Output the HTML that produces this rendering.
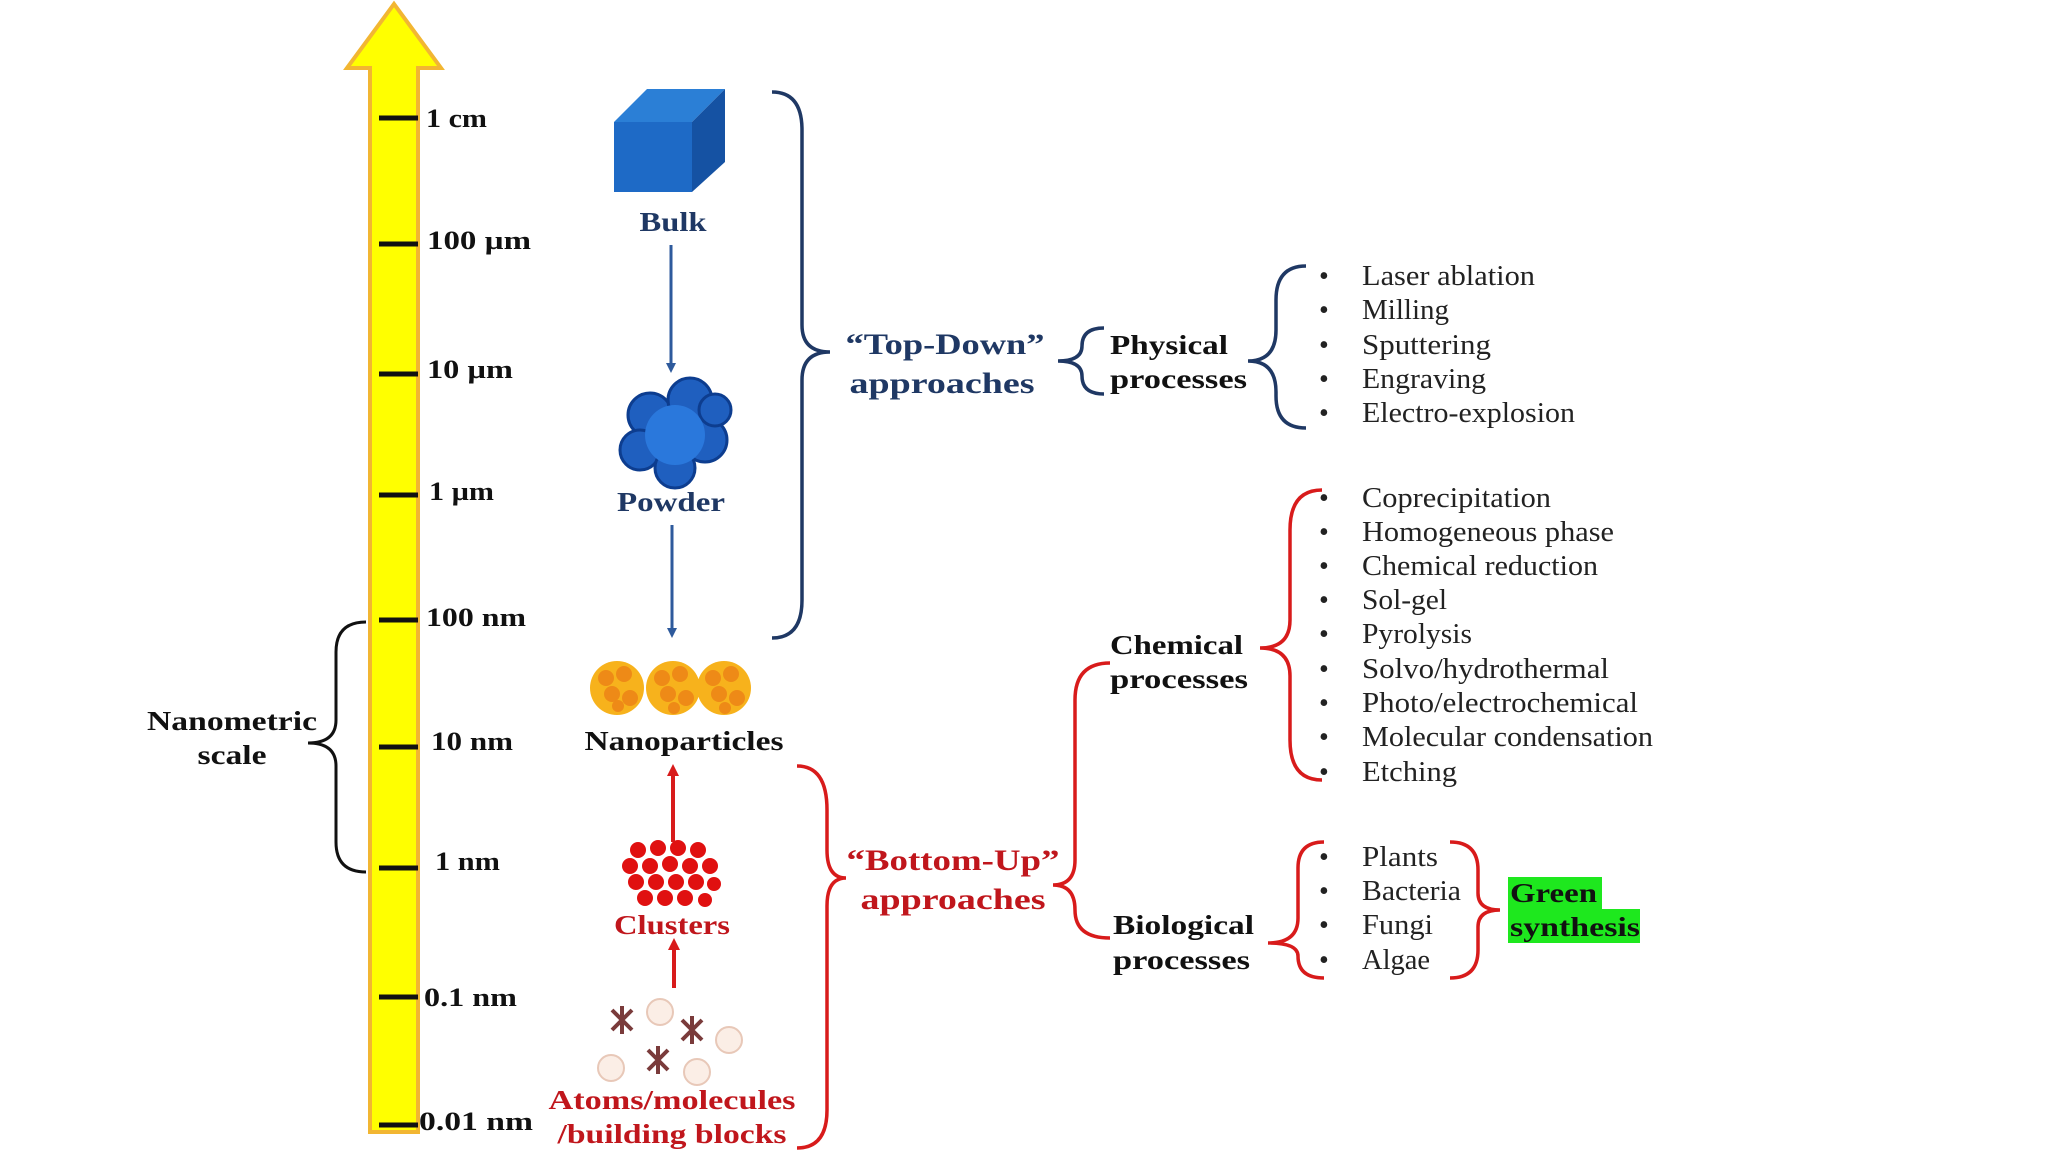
<!DOCTYPE html>
<html><head><meta charset="utf-8"><style>
html,body{margin:0;padding:0;background:#fff;}
svg{display:block;}
text{font-family:"Liberation Serif",serif;}
.b{font-weight:bold;}
</style></head><body>
<svg width="2048" height="1152" viewBox="0 0 2048 1152" xmlns="http://www.w3.org/2000/svg">
<defs>
<marker id="ab" markerWidth="10" markerHeight="10" refX="5" refY="5" orient="auto" markerUnits="userSpaceOnUse" viewBox="0 0 10 10"><path d="M0,0 L10,5 L0,10 z" fill="#2e5a9c"/></marker>
<marker id="ar" markerWidth="12" markerHeight="12" refX="6" refY="6" orient="auto" markerUnits="userSpaceOnUse" viewBox="0 0 12 12"><path d="M0,0 L12,6 L0,12 z" fill="#d81b1b"/></marker>
</defs>
<path d="M370,1132 L370,68 L347,68 L394,4 L441,68 L418,68 L418,1132 Z" fill="#ffff00" stroke="#f2b632" stroke-width="4"/>
<g stroke="#111" stroke-width="5">
<line x1="379" y1="118" x2="418" y2="118"/>
<line x1="379" y1="244" x2="418" y2="244"/>
<line x1="379" y1="374" x2="418" y2="374"/>
<line x1="379" y1="495" x2="418" y2="495"/>
<line x1="379" y1="620" x2="418" y2="620"/>
<line x1="379" y1="747" x2="418" y2="747"/>
<line x1="379" y1="868" x2="418" y2="868"/>
<line x1="379" y1="997" x2="418" y2="997"/>
<line x1="379" y1="1125" x2="418" y2="1125"/>
</g>
<g class="b" font-size="26" fill="#111">
<text x="426" y="127" textLength="61" lengthAdjust="spacingAndGlyphs">1 cm</text>
<text x="427" y="249" textLength="104" lengthAdjust="spacingAndGlyphs">100 µm</text>
<text x="427" y="378" textLength="86" lengthAdjust="spacingAndGlyphs">10 µm</text>
<text x="429" y="500" textLength="65" lengthAdjust="spacingAndGlyphs">1 µm</text>
<text x="426" y="626" textLength="100" lengthAdjust="spacingAndGlyphs">100 nm</text>
<text x="431" y="750" textLength="82" lengthAdjust="spacingAndGlyphs">10 nm</text>
<text x="435" y="870" textLength="65" lengthAdjust="spacingAndGlyphs">1 nm</text>
<text x="424" y="1006" textLength="93" lengthAdjust="spacingAndGlyphs">0.1 nm</text>
<text x="419" y="1130" textLength="114" lengthAdjust="spacingAndGlyphs">0.01 nm</text>
</g>
<path d="M366,622 Q336,622 336,652 L336,720 Q336,743 308,743 Q336,743 336,766 L336,842 Q336,872 366,872" fill="none" stroke="#111" stroke-width="3"/>
<text class="b" font-size="27" x="232" y="730" text-anchor="middle" fill="#111" textLength="170" lengthAdjust="spacingAndGlyphs">Nanometric</text>
<text class="b" font-size="27" x="232" y="764" text-anchor="middle" fill="#111" textLength="69" lengthAdjust="spacingAndGlyphs">scale</text>
<polygon points="614,122 647,89 725,89 692,122" fill="#2b7fd6"/>
<polygon points="692,122 725,89 725,162 692,192" fill="#1552a3"/>
<rect x="614" y="122" width="78" height="70" fill="#1e6ac6"/>
<text class="b" font-size="27" x="673" y="231" text-anchor="middle" fill="#1f3864" textLength="67" lengthAdjust="spacingAndGlyphs">Bulk</text>
<line x1="671" y1="245" x2="671" y2="368" stroke="#2e5a9c" stroke-width="3" marker-end="url(#ab)"/>
<g fill="#1f5fbf" stroke="#0d3d8f" stroke-width="3">
<circle cx="650" cy="415" r="22"/><circle cx="690" cy="400" r="22"/><circle cx="705" cy="440" r="22"/>
<circle cx="640" cy="450" r="20"/><circle cx="675" cy="468" r="20"/><circle cx="715" cy="410" r="16"/>
</g>
<circle cx="675" cy="435" r="30" fill="#2a78dc"/>
<text class="b" font-size="27" x="671" y="511" text-anchor="middle" fill="#1f3864" textLength="108" lengthAdjust="spacingAndGlyphs">Powder</text>
<line x1="672" y1="525" x2="672" y2="633" stroke="#2e5a9c" stroke-width="3" marker-end="url(#ab)"/>
<g>
<g fill="#f7b21c"><circle cx="617" cy="688" r="27"/><circle cx="673" cy="688" r="27"/><circle cx="724" cy="688" r="27"/></g>
<g fill="#ee8a17">
<circle cx="606" cy="678" r="8"/><circle cx="624" cy="674" r="8"/><circle cx="612" cy="694" r="8"/><circle cx="630" cy="698" r="8"/><circle cx="618" cy="706" r="6"/>
<circle cx="662" cy="678" r="8"/><circle cx="680" cy="674" r="8"/><circle cx="668" cy="694" r="8"/><circle cx="686" cy="698" r="8"/><circle cx="674" cy="708" r="6"/>
<circle cx="713" cy="678" r="8"/><circle cx="731" cy="674" r="8"/><circle cx="719" cy="694" r="8"/><circle cx="737" cy="698" r="8"/><circle cx="725" cy="708" r="6"/>
</g></g>
<text class="b" font-size="27" x="684" y="750" text-anchor="middle" fill="#111" textLength="199" lengthAdjust="spacingAndGlyphs">Nanoparticles</text>
<line x1="673" y1="842" x2="673" y2="770" stroke="#d81b1b" stroke-width="4" marker-end="url(#ar)"/>
<g fill="#e01010">
<circle cx="638" cy="850" r="8"/><circle cx="658" cy="848" r="8"/><circle cx="678" cy="848" r="8"/><circle cx="698" cy="850" r="8"/>
<circle cx="630" cy="866" r="8"/><circle cx="650" cy="866" r="8"/><circle cx="670" cy="864" r="8"/><circle cx="690" cy="866" r="8"/><circle cx="710" cy="866" r="8"/>
<circle cx="636" cy="882" r="8"/><circle cx="656" cy="882" r="8"/><circle cx="676" cy="882" r="8"/><circle cx="696" cy="882" r="8"/><circle cx="714" cy="884" r="7"/>
<circle cx="645" cy="898" r="8"/><circle cx="665" cy="898" r="8"/><circle cx="685" cy="898" r="8"/><circle cx="705" cy="900" r="7"/>
</g>
<text class="b" font-size="27" x="672" y="934" text-anchor="middle" fill="#c0161c" textLength="116" lengthAdjust="spacingAndGlyphs">Clusters</text>
<line x1="674" y1="988" x2="674" y2="944" stroke="#d81b1b" stroke-width="4" marker-end="url(#ar)"/>
<g stroke="#7a3b3b" stroke-width="4" fill="none">
<path d="M612,1010 l20,20 M632,1010 l-20,20 M622,1006 l0,28"/>
<path d="M682,1020 l20,20 M702,1020 l-20,20 M692,1016 l0,28"/>
<path d="M648,1050 l20,20 M668,1050 l-20,20 M658,1046 l0,28"/>
</g>
<g fill="#fbeee6" stroke="#e8c8b8" stroke-width="2">
<circle cx="660" cy="1012" r="13"/><circle cx="729" cy="1040" r="13"/><circle cx="611" cy="1068" r="13"/><circle cx="697" cy="1072" r="13"/>
</g>
<text class="b" font-size="27" x="672" y="1109" text-anchor="middle" fill="#c0161c" textLength="247" lengthAdjust="spacingAndGlyphs">Atoms/molecules</text>
<text class="b" font-size="27" x="672" y="1143" text-anchor="middle" fill="#c0161c" textLength="229" lengthAdjust="spacingAndGlyphs">/building blocks</text>
<path d="M772,92 Q802,92 802,130 L802,325 Q802,352 830,352 Q802,352 802,380 L802,600 Q802,638 772,638" fill="none" stroke="#1f3864" stroke-width="3.5"/>
<text class="b" font-size="30" x="945" y="354" text-anchor="middle" fill="#1f3864" textLength="199" lengthAdjust="spacingAndGlyphs">“Top-Down”</text>
<text class="b" font-size="30" x="942" y="393" text-anchor="middle" fill="#1f3864" textLength="185" lengthAdjust="spacingAndGlyphs">approaches</text>
<path d="M1104,328 Q1082,328 1082,346 Q1082,361 1058,361 Q1082,361 1082,376 Q1082,394 1104,394" fill="none" stroke="#1f3864" stroke-width="3.5"/>
<text class="b" font-size="27" x="1110" y="354" fill="#111" textLength="118" lengthAdjust="spacingAndGlyphs">Physical</text>
<text class="b" font-size="27" x="1110" y="388" fill="#111" textLength="137" lengthAdjust="spacingAndGlyphs">processes</text>
<path d="M1306,266 Q1276,266 1276,300 L1276,330 Q1276,361 1248,361 Q1276,361 1276,392 L1276,396 Q1276,428 1306,428" fill="none" stroke="#1f3864" stroke-width="3.5"/>
<g font-size="28" fill="#222">
<text x="1319" y="285">•</text><text x="1362" y="285" textLength="173" lengthAdjust="spacingAndGlyphs">Laser ablation</text>
<text x="1319" y="319">•</text><text x="1362" y="319" textLength="87" lengthAdjust="spacingAndGlyphs">Milling</text>
<text x="1319" y="354">•</text><text x="1362" y="354" textLength="129" lengthAdjust="spacingAndGlyphs">Sputtering</text>
<text x="1319" y="388">•</text><text x="1362" y="388" textLength="124" lengthAdjust="spacingAndGlyphs">Engraving</text>
<text x="1319" y="422">•</text><text x="1362" y="422" textLength="213" lengthAdjust="spacingAndGlyphs">Electro-explosion</text>
</g>
<path d="M797,766 Q827,766 827,810 L827,850 Q827,878 846,878 Q827,878 827,906 L827,1110 Q827,1148 797,1148" fill="none" stroke="#d81b1b" stroke-width="3.5"/>
<text class="b" font-size="30" x="953" y="870" text-anchor="middle" fill="#c0161c" textLength="213" lengthAdjust="spacingAndGlyphs">“Bottom-Up”</text>
<text class="b" font-size="30" x="953" y="909" text-anchor="middle" fill="#c0161c" textLength="185" lengthAdjust="spacingAndGlyphs">approaches</text>
<path d="M1110,663 Q1075,663 1075,700 L1075,860 Q1075,885 1053,885 Q1075,885 1075,910 Q1075,938 1110,938" fill="none" stroke="#d81b1b" stroke-width="3.5"/>
<text class="b" font-size="27" x="1110" y="654" fill="#111" textLength="133" lengthAdjust="spacingAndGlyphs">Chemical</text>
<text class="b" font-size="27" x="1110" y="688" fill="#111" textLength="138" lengthAdjust="spacingAndGlyphs">processes</text>
<path d="M1322,490 Q1290,490 1290,530 L1290,620 Q1290,648 1260,648 Q1290,648 1290,676 L1290,740 Q1290,780 1322,780" fill="none" stroke="#d81b1b" stroke-width="3.5"/>
<g font-size="28" fill="#222">
<text x="1319" y="507">•</text><text x="1362" y="507" textLength="189" lengthAdjust="spacingAndGlyphs">Coprecipitation</text>
<text x="1319" y="541">•</text><text x="1362" y="541" textLength="252" lengthAdjust="spacingAndGlyphs">Homogeneous phase</text>
<text x="1319" y="575">•</text><text x="1362" y="575" textLength="236" lengthAdjust="spacingAndGlyphs">Chemical reduction</text>
<text x="1319" y="609">•</text><text x="1362" y="609" textLength="85" lengthAdjust="spacingAndGlyphs">Sol-gel</text>
<text x="1319" y="643">•</text><text x="1362" y="643" textLength="110" lengthAdjust="spacingAndGlyphs">Pyrolysis</text>
<text x="1319" y="678">•</text><text x="1362" y="678" textLength="247" lengthAdjust="spacingAndGlyphs">Solvo/hydrothermal</text>
<text x="1319" y="712">•</text><text x="1362" y="712" textLength="276" lengthAdjust="spacingAndGlyphs">Photo/electrochemical</text>
<text x="1319" y="746">•</text><text x="1362" y="746" textLength="291" lengthAdjust="spacingAndGlyphs">Molecular condensation</text>
<text x="1319" y="781">•</text><text x="1362" y="781" textLength="95" lengthAdjust="spacingAndGlyphs">Etching</text>
</g>
<text class="b" font-size="27" x="1113" y="934" fill="#111" textLength="141" lengthAdjust="spacingAndGlyphs">Biological</text>
<text class="b" font-size="27" x="1113" y="969" fill="#111" textLength="137" lengthAdjust="spacingAndGlyphs">processes</text>
<path d="M1324,842 Q1298,842 1298,868 L1298,918 Q1298,943 1268,943 Q1298,943 1298,956 Q1298,978 1324,978" fill="none" stroke="#d81b1b" stroke-width="3.5"/>
<g font-size="28" fill="#222">
<text x="1319" y="866">•</text><text x="1362" y="866" textLength="76" lengthAdjust="spacingAndGlyphs">Plants</text>
<text x="1319" y="900">•</text><text x="1362" y="900" textLength="99" lengthAdjust="spacingAndGlyphs">Bacteria</text>
<text x="1319" y="934">•</text><text x="1362" y="934" textLength="71" lengthAdjust="spacingAndGlyphs">Fungi</text>
<text x="1319" y="969">•</text><text x="1362" y="969" textLength="68" lengthAdjust="spacingAndGlyphs">Algae</text>
</g>
<path d="M1450,842 Q1478,842 1478,870 L1478,893 Q1478,910 1500,910 Q1478,910 1478,927 L1478,950 Q1478,978 1450,978" fill="none" stroke="#d81b1b" stroke-width="3.5"/>
<rect x="1508" y="877" width="94" height="32" fill="#1ee81e"/>
<rect x="1508" y="909" width="132" height="34" fill="#1ee81e"/>
<text class="b" font-size="27" x="1510" y="902" fill="#111" textLength="87" lengthAdjust="spacingAndGlyphs">Green</text>
<text class="b" font-size="27" x="1510" y="936" fill="#111" textLength="130" lengthAdjust="spacingAndGlyphs">synthesis</text>
</svg>
</body></html>
